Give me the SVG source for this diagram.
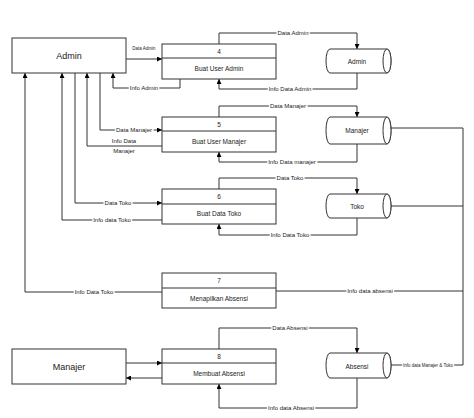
<svg xmlns="http://www.w3.org/2000/svg" width="474" height="418" viewBox="0 0 474 418">
<defs>
<marker id="ah" viewBox="0 0 10 10" refX="10" refY="5" markerWidth="5" markerHeight="5" orient="auto" markerUnits="userSpaceOnUse">
<path d="M0,0 L10,5 L0,10 Z" fill="#000"/>
</marker>
</defs>
<style>
.box{fill:#fff;stroke:#333;stroke-width:1}
.ln{fill:none;stroke:#333;stroke-width:1}
.arr{fill:none;stroke:#333;stroke-width:1;marker-end:url(#ah)}
text{font-family:"Liberation Sans",Arial,sans-serif;fill:#222}
.t9{font-size:9px;text-anchor:middle;dominant-baseline:central}
.t7{font-size:6.5px;text-anchor:middle;dominant-baseline:central}
.lb{font-size:6px;text-anchor:middle;dominant-baseline:central;stroke:#fff;stroke-width:3;paint-order:stroke}
.lbs{font-size:4.5px;text-anchor:middle;dominant-baseline:central;stroke:#fff;stroke-width:2.5;paint-order:stroke}
</style>
<rect width="474" height="418" fill="#fff"/>

<g id="connectors">
<!-- Admin entity <-> process 4 -->
<path class="arr" d="M126,59 H162"/>
<path class="arr" d="M180,79 V88 H113 V73"/>
<!-- Admin <-> process 5 -->
<path class="arr" d="M100,73 V130 H162"/>
<path class="arr" d="M162,146 H87 V73"/>
<!-- Admin <-> process 6 -->
<path class="arr" d="M75,73 V203 H162"/>
<path class="arr" d="M162,220 H62 V73"/>
<!-- process 7 -> Admin -->
<path class="arr" d="M162,292 H25 V73"/>
<!-- process 4 <-> Admin store -->
<path class="arr" d="M219,44 V33 H357 V49"/>
<path class="arr" d="M357,73 V89 H219 V79"/>
<!-- process 5 <-> Manajer store -->
<path class="arr" d="M219,117 V106 H357 V117"/>
<path class="arr" d="M357,144 V162 H219 V152"/>
<!-- process 6 <-> Toko store -->
<path class="arr" d="M219,189 V178 H357 V194"/>
<path class="arr" d="M357,218 V235 H219 V224"/>
<!-- stores to right bus -->
<path class="ln" d="M391,128 H463 V365 H391"/>
<path class="ln" d="M391,206 H463"/>
<path class="ln" d="M276,291 H463"/>
<!-- process 8 <-> Absensi store -->
<path class="arr" d="M219,349 V328 H357 V353"/>
<path class="arr" d="M357,378 V408 H219 V384"/>
<!-- Manajer entity <-> process 8 -->
<path class="arr" d="M126,363 H162"/>
<path class="arr" d="M162,378 H126"/>

<text class="lbs" x="144" y="48" style="stroke-width:0">Data Admin</text>
<text class="lb" x="144" y="88">Info Admin</text>
<text class="lb" x="134" y="130">Data Manajer</text>
<text class="lb" x="124" y="141">Info Data</text>
<text class="lb" x="124" y="151">Manajer</text>
<text class="lb" x="118" y="203">Data Toko</text>
<text class="lb" x="112" y="220">Info data Toko</text>
<text class="lb" x="94" y="292">Info Data Toko</text>
<text class="lb" x="293" y="33">Data Admin</text>
<text class="lb" x="290" y="89">Info Data Admin</text>
<text class="lb" x="288" y="106">Data Manajer</text>
<text class="lb" x="292" y="162">Info Data manajer</text>
<text class="lb" x="290" y="178">Data Toko</text>
<text class="lb" x="290" y="235">Info Data Toko</text>
<text class="lb" x="370" y="291">Info data absensi</text>
<text class="lb" x="290" y="328">Data Absensi</text>
<text class="lb" x="291" y="408">Info data Absensi</text>
<text class="lbs" x="428" y="365">Info data Manajer &amp; Toko</text>
</g>

<g id="admin-entity">
<rect class="box" x="12" y="38" width="114" height="35"/>
<text class="t9" x="69" y="56">Admin</text>
</g>
<g id="manajer-entity">
<rect class="box" x="12" y="349" width="114" height="35"/>
<text class="t9" x="69" y="367">Manajer</text>
</g>

<g id="p4">
<rect class="box" x="162" y="44" width="114" height="35"/>
<path class="ln" d="M162,58 H276"/>
<text class="t7" x="219" y="51">4</text>
<text class="t7" x="219" y="68">Buat User Admin</text>
</g>
<g id="p5">
<rect class="box" x="162" y="117" width="114" height="35"/>
<path class="ln" d="M162,131 H276"/>
<text class="t7" x="219" y="124">5</text>
<text class="t7" x="219" y="141">Buat User Manajer</text>
</g>
<g id="p6">
<rect class="box" x="162" y="189" width="114" height="35"/>
<path class="ln" d="M162,204 H276"/>
<text class="t7" x="219" y="196.5">6</text>
<text class="t7" x="219" y="213">Buat Data Toko</text>
</g>
<g id="p7">
<rect class="box" x="162" y="273" width="114" height="35"/>
<path class="ln" d="M162,288 H276"/>
<text class="t7" x="219" y="280.5">7</text>
<text class="t7" x="219" y="298">Menapilkan Absensi</text>
</g>
<g id="p8">
<rect class="box" x="162" y="349" width="114" height="35"/>
<path class="ln" d="M162,363 H276"/>
<text class="t7" x="219" y="356">8</text>
<text class="t7" x="219" y="373">Membuat Absensi</text>
</g>

<g id="store-admin">
<path class="box" d="M330,49 H387 A4,12 0 0 1 387,73 H330 A4,12 0 0 1 330,49 Z"/>
<ellipse class="box" cx="387" cy="61" rx="4" ry="12"/>
<text class="t7" x="357" y="61">Admin</text>
</g>
<g id="store-manajer">
<path class="box" d="M330,117 H387 A4,13.5 0 0 1 387,144 H330 A4,13.5 0 0 1 330,117 Z"/>
<ellipse class="box" cx="387" cy="130.5" rx="4" ry="13.5"/>
<text class="t7" x="357" y="130">Manajer</text>
</g>
<g id="store-toko">
<path class="box" d="M330,194 H387 A4,12 0 0 1 387,218 H330 A4,12 0 0 1 330,194 Z"/>
<ellipse class="box" cx="387" cy="206" rx="4" ry="12"/>
<text class="t7" x="357" y="206">Toko</text>
</g>
<g id="store-absensi">
<path class="box" d="M330,353 H387 A4,12.5 0 0 1 387,378 H330 A4,12.5 0 0 1 330,353 Z"/>
<ellipse class="box" cx="387" cy="365.5" rx="4" ry="12.5"/>
<text class="t7" x="357" y="366">Absensi</text>
</g>
</svg>
